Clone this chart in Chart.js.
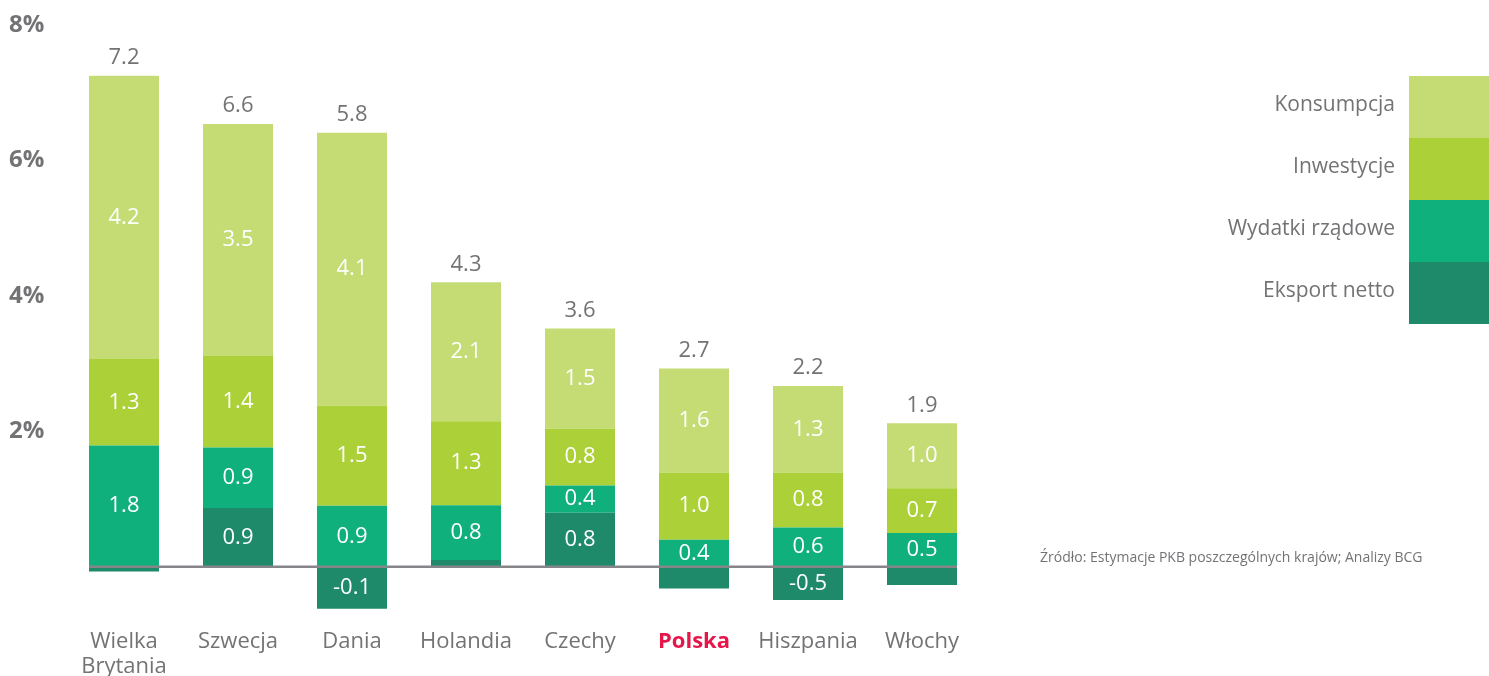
<!DOCTYPE html>
<html>
<head>
<meta charset="utf-8">
<script src="https://cdn.jsdelivr.net/npm/chart.js@4/dist/chart.umd.min.js"></script>
<style>
  body { margin: 0; background: #fff; font-family: "Open Sans", sans-serif; }
  #wrap { position: relative; width: 1489px; height: 676px; }
  #legend { position: absolute; left: 1150px; top: 76px; }
  .row { display: flex; align-items: center; height: 62px; }
  .row span { width: 245px; text-align: right; padding-right: 14px; font-size: 21px; color: #737376; margin-top: -8px; }
  .row i { display: block; width: 80px; height: 62px; }
  #source { position: absolute; left: 1040px; top: 547px; font-size: 14px; color: #737376; }
</style>
</head>
<body>
<div id="wrap">
  <canvas id="gdpChart" width="1489" height="676"></canvas>
  <div id="legend"></div>
  <div id="source">Źródło: Estymacje PKB poszczególnych krajów; Analizy BCG</div>
</div>
<script>
// dane
var countries = [['Wielka', 'Brytania'], 'Szwecja', 'Dania', 'Holandia', 'Czechy', 'Polska', 'Hiszpania', 'Włochy'];
var seriesNames = ['Eksport netto', 'Wydatki rządowe', 'Inwestycje', 'Konsumpcja'];
var seriesColors = ['#1f8a6a', '#10b07c', '#acd037', '#c5dc74'];

var eksport = [-0.07, 0.87, -0.62, 0.10, 0.80, -0.32, -0.49, -0.27];
var wydatki = [1.79, 0.89, 0.90, 0.81, 0.40, 0.40, 0.58, 0.50];
var inwestycje = [1.28, 1.36, 1.48, 1.24, 0.84, 0.99, 0.81, 0.66];
var konsumpcja = [4.18, 3.42, 4.03, 2.05, 1.48, 1.54, 1.28, 0.96];

// etykiety tak jak na wykresie
var eksportLabels = ['', '0.9', '-0.1', '', '0.8', '', '-0.5', ''];
var wydatkiLabels = ['1.8', '0.9', '0.9', '0.8', '0.4', '0.4', '0.6', '0.5'];
var inwestycjeLabels = ['1.3', '1.4', '1.5', '1.3', '0.8', '1.0', '0.8', '0.7'];
var konsumpcjaLabels = ['4.2', '3.5', '4.1', '2.1', '1.5', '1.6', '1.3', '1.0'];
var totalLabels = ['7.2', '6.6', '5.8', '4.3', '3.6', '2.7', '2.2', '1.9'];

var yTicks = [2, 4, 6, 8];
var highlight = 'Polska';

var grey = '#737376';
var font = '"Open Sans", sans-serif';

var seriesValues = [eksport, wydatki, inwestycje, konsumpcja];
var seriesLabels = [eksportLabels, wydatkiLabels, inwestycjeLabels, konsumpcjaLabels];

// legenda (od góry: konsumpcja)
var legend = document.getElementById('legend');
for (var i = seriesNames.length - 1; i >= 0; i--) {
    var row = document.createElement('div');
    row.className = 'row';
    row.innerHTML = '<span>' + seriesNames[i] + '</span><i style="background:' + seriesColors[i] + '"></i>';
    legend.appendChild(row);
}

var barLabelsPlugin = {
    id: 'barLabels',
    afterDatasetsDraw: function (chart) {
        var ctx = chart.ctx;
        var yScale = chart.scales.y;
        var first = chart.getDatasetMeta(0).data[0];
        var last = chart.getDatasetMeta(0).data[countries.length - 1];

        // linia zero
        var y0 = yScale.getPixelForValue(0);
        ctx.save();
        ctx.strokeStyle = '#85858a';
        ctx.lineWidth = 2.5;
        ctx.beginPath();
        ctx.moveTo(first.x - first.width / 2, y0);
        ctx.lineTo(last.x + last.width / 2, y0);
        ctx.stroke();

        ctx.textAlign = 'center';
        ctx.textBaseline = 'middle';
        ctx.font = '22px ' + font;
        ctx.fillStyle = '#ffffff';
        chart.data.datasets.forEach(function (ds, di) {
            chart.getDatasetMeta(di).data.forEach(function (bar, i) {
                var txt = seriesLabels[di][i];
                if (!txt) return;
                ctx.fillText(txt, bar.x, (bar.y + bar.base) / 2);
            });
        });

        ctx.fillStyle = grey;
        var topMeta = chart.getDatasetMeta(chart.data.datasets.length - 1);
        topMeta.data.forEach(function (bar, i) {
            ctx.fillText(totalLabels[i], bar.x, bar.y - 18);
        });
        ctx.restore();
    }
};

var chartCtx = document.getElementById('gdpChart').getContext('2d');

var gdpChart = new Chart(chartCtx, {
    type: 'bar',
    data: {
        labels: countries,
        datasets: seriesNames.map(function (name, i) {
            return {
                label: name,
                data: seriesValues[i],
                backgroundColor: seriesColors[i],
                borderWidth: 0,
                barPercentage: 0.614,
                categoryPercentage: 1.0
            };
        })
    },
    options: {
        responsive: false,
        animation: false,
        layout: {
            padding: { left: 9, right: 510, top: 25, bottom: 0 }
        },
        plugins: {
            legend: { display: false },
            tooltip: { enabled: false }
        },
        scales: {
            x: {
                stacked: true,
                grid: { display: false, drawTicks: false },
                border: { display: false },
                afterFit: function (scale) {
                    scale.height = 55;
                },
                ticks: {
                    padding: 9,
                    maxRotation: 0,
                    autoSkip: false,
                    color: function (c) {
                        return countries[c.index] === highlight ? '#e5164a' : grey;
                    },
                    font: function (c) {
                        var bold = countries[c.index] === highlight;
                        return { family: font, size: 22, weight: bold ? 'bold' : 'normal', lineHeight: 1.1 };
                    }
                }
            },
            y: {
                stacked: true,
                min: -0.8,
                max: 8,
                grid: { display: false, drawTicks: false },
                border: { display: false },
                afterBuildTicks: function (scale) {
                    scale.ticks = yTicks.map(function (v) { return { value: v }; });
                },
                afterFit: function (scale) {
                    scale.width = 58;
                },
                ticks: {
                    crossAlign: 'far',
                    color: grey,
                    font: { family: font, size: 24, weight: 'bold' },
                    callback: function (v) { return v + '%'; }
                }
            }
        }
    },
    plugins: [barLabelsPlugin]
});
</script>
</body>
</html>
